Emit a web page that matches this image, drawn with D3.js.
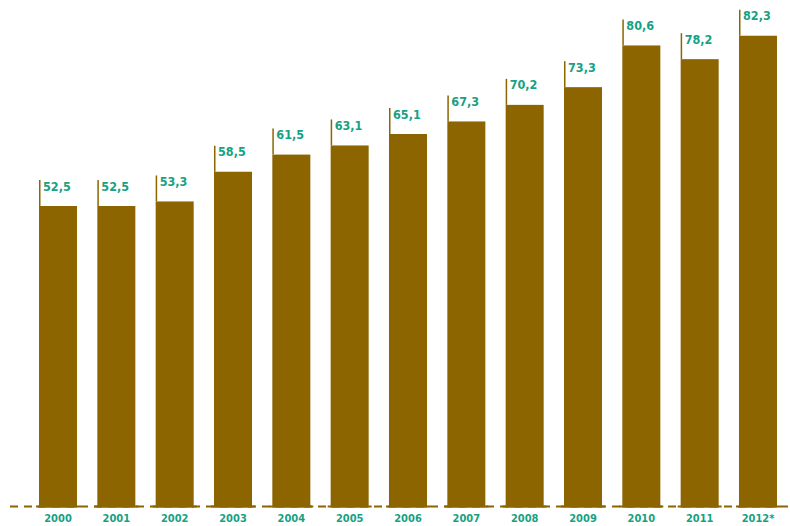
<!DOCTYPE html>
<html>
<head>
<meta charset="utf-8">
<script src="https://cdn.jsdelivr.net/npm/d3@7/dist/d3.min.js"></script>
<style>
  html, body { margin: 0; padding: 0; background: #fff; }
  svg { display: block; }
  text { font-family: "DejaVu Sans Condensed", "DejaVu Sans", sans-serif; font-weight: bold; }
</style>
</head>
<body>
<svg id="chart" width="790" height="526"></svg>
<script>
// Yearly values
const years = ["2000","2001","2002","2003","2004","2005","2006","2007","2008","2009","2010","2011","2012*"];
const values = [52.5, 52.5, 53.3, 58.5, 61.5, 63.1, 65.1, 67.3, 70.2, 73.3, 80.6, 78.2, 82.3];
const valueLabels = ["52,5","52,5","53,3","58,5","61,5","63,1","65,1","67,3","70,2","73,3","80,6","78,2","82,3"];

const barColor = "#8c6400";
const textColor = "#17a183";

const svg = d3.select("#chart");
const baseY = 506;

const x = d3.scaleBand()
  .domain(years)
  .range([39, 777])
  .paddingInner(0.3485)
  .paddingOuter(0);

const y = d3.scaleLinear()
  .domain([0, 100])
  .range([baseY, baseY - 571.4]);

// dashed baseline
svg.append("line")
  .attr("x1", 10).attr("x2", 790)
  .attr("y1", baseY + 0.5).attr("y2", baseY + 0.5)
  .attr("stroke", barColor)
  .attr("stroke-width", 2)
  .attr("stroke-dasharray", "8,6");

const g = svg.append("g");

// bars
g.selectAll("rect.bar")
  .data(values)
  .join("rect")
  .attr("class", "bar")
  .attr("x", (d, i) => x(years[i]))
  .attr("y", d => y(d))
  .attr("width", x.bandwidth())
  .attr("height", d => baseY - y(d) + 1.5)
  .attr("fill", barColor);

// short baseline extension under each bar
g.selectAll("line.foot")
  .data(values)
  .join("line")
  .attr("class", "foot")
  .attr("x1", (d, i) => x(years[i]) - 3)
  .attr("x2", (d, i) => x(years[i]) + x.bandwidth() + 3)
  .attr("y1", baseY + 0.5).attr("y2", baseY + 0.5)
  .attr("stroke", barColor)
  .attr("stroke-width", 2);

// leader lines
g.selectAll("line.leader")
  .data(values)
  .join("line")
  .attr("class", "leader")
  .attr("x1", (d, i) => x(years[i]) + 0.75)
  .attr("x2", (d, i) => x(years[i]) + 0.75)
  .attr("y1", d => y(d))
  .attr("y2", d => y(d) - 26)
  .attr("stroke", barColor)
  .attr("stroke-width", 1.5);

// value labels
g.selectAll("text.val")
  .data(values)
  .join("text")
  .attr("class", "val")
  .attr("x", (d, i) => x(years[i]) + 4)
  .attr("y", d => y(d) - 15.5)
  .attr("fill", textColor)
  .attr("font-size", 12.5)
  .text((d, i) => valueLabels[i]);

// year labels
g.selectAll("text.year")
  .data(years)
  .join("text")
  .attr("class", "year")
  .attr("x", d => x(d) + x.bandwidth() / 2)
  .attr("y", 522)
  .attr("text-anchor", "middle")
  .attr("fill", textColor)
  .attr("font-size", 11)
  .text(d => d);
</script>
</body>
</html>
